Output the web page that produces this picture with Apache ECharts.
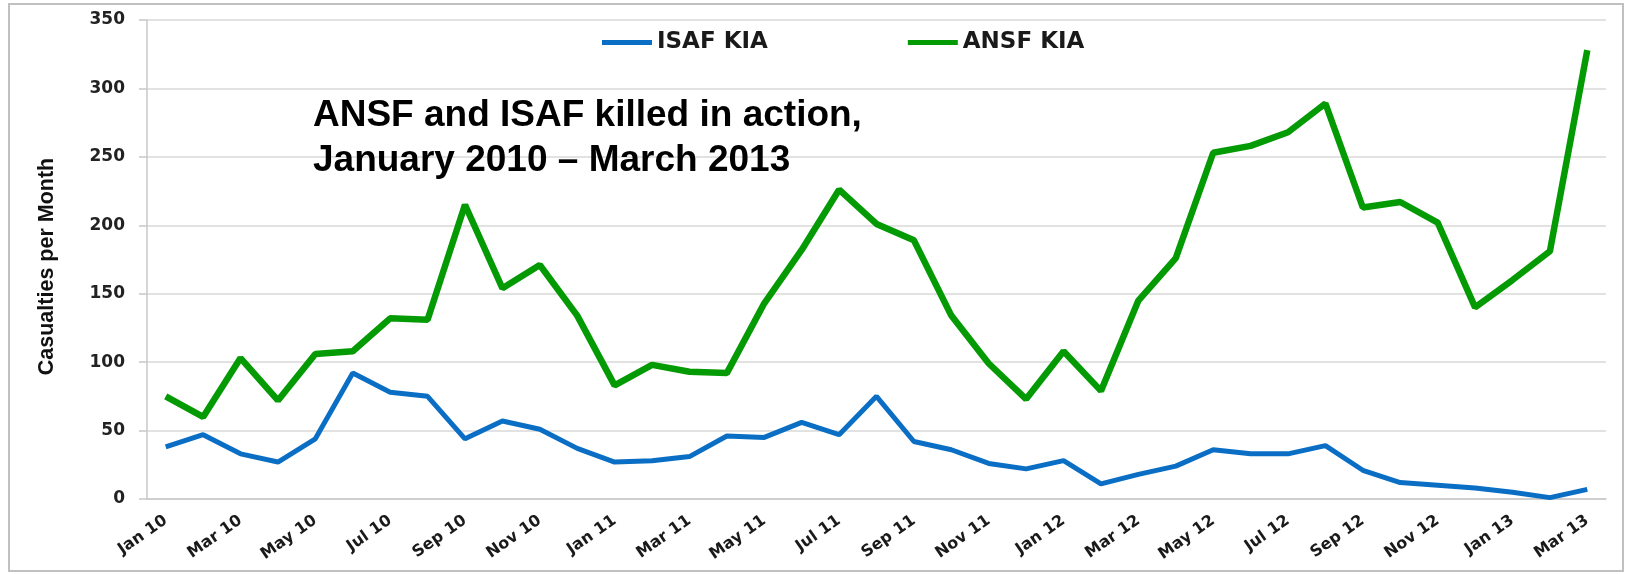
<!DOCTYPE html>
<html>
<head>
<meta charset="utf-8">
<script src="https://cdn.jsdelivr.net/npm/echarts@6/dist/echarts.min.js"></script>
<style>
  html, body { margin: 0; padding: 0; background: #fff; }
  #line-chart { width: 1628px; height: 574px; }
</style>
</head>
<body>
<div id="line-chart"></div>
<script>
// months Jan 2010 .. Mar 2013
const years = ['10', '11', '12', '13']
const monthNames = ['Jan', 'Feb', 'Mar', 'Apr', 'May', 'Jun', 'Jul', 'Aug', 'Sep', 'Oct', 'Nov', 'Dec']
const months = []
years.forEach(y => monthNames.forEach(m => months.push(m + ' ' + y)))
const categories = months.slice(0, 39)

const isafKia = [38, 47, 33, 27, 44, 92, 78, 75, 44, 57, 51, 37,
  27, 28, 31, 46, 45, 56, 47, 75, 42, 36, 26, 22,
  28, 11, 18, 24, 36, 33, 33, 39, 21, 12, 10, 8,
  5, 1, 7]
const ansfKia = [75, 60, 103, 72, 106, 108, 132, 131, 215, 154, 171, 134,
  83, 98, 93, 92, 143, 182, 226, 201, 189, 134, 99, 73,
  108, 79, 145, 176, 253, 258, 268, 289, 213, 217, 202, 140,
  160, 181, 328]

const yTicks = [0, 50, 100, 150, 200, 250, 300, 350]

const chart = echarts.init(document.getElementById('line-chart'))
const option = {
  animation: false,
  title: {
    text: 'ANSF and ISAF killed in action,\nJanuary 2010 – March 2013',
    left: 313,
    top: 93,
    padding: 0,
    textStyle: {
      fontFamily: '"Liberation Sans", Arial, sans-serif',
      fontWeight: 'bold',
      fontSize: 37,
      lineHeight: 45,
      color: '#000'
    }
  },
  legend: {
    left: 597,
    top: 26,
    icon: 'rect',
    itemWidth: 50,
    itemHeight: 5,
    itemGap: 140,
    itemTextGap: 3,
    textStyle: {
      fontFamily: '"DejaVu Sans", sans-serif',
      fontWeight: 'bold',
      fontSize: 23,
      color: '#1a1a1a'
    },
    data: ['ISAF KIA', 'ANSF KIA']
  },
  graphic: [{
    type: 'rect',
    shape: { x: 9, y: 4, width: 1614, height: 567 },
    style: { fill: 'none', stroke: '#c0c0c0', lineWidth: 2 },
    silent: true
  }],
  grid: { left: 147, right: 22, top: 20, bottom: 75 },
  xAxis: {
    type: 'category',
    data: categories,
    boundaryGap: true,
    axisLine: { lineStyle: { color: '#c8c8c8', width: 1.5 } },
    axisTick: { interval: 1, length: 6, lineStyle: { color: '#c8c8c8', width: 1.5 } },
    axisLabel: {
      interval: 1,
      rotate: 35,
      margin: 20,
      fontFamily: '"DejaVu Sans", sans-serif',
      fontWeight: 'bold',
      fontSize: 16,
      color: '#1a1a1a'
    }
  },
  yAxis: {
    type: 'value',
    min: yTicks[0],
    max: yTicks[yTicks.length - 1],
    interval: 50,
    name: 'Casualties per Month',
    nameLocation: 'middle',
    nameGap: 89,
    nameTextStyle: {
      fontFamily: '"Liberation Sans Narrow", "Arial Narrow", "Liberation Sans", sans-serif',
      fontWeight: 'bold',
      fontSize: 21.5,
      color: '#111',
      padding: [0, 14, 0, 0]
    },
    axisLine: { show: true, lineStyle: { color: '#c8c8c8', width: 1.5 } },
    axisTick: { show: true, length: 8, lineStyle: { color: '#c8c8c8', width: 1.5 } },
    axisLabel: {
      margin: 22,
      fontFamily: '"DejaVu Sans", sans-serif',
      fontWeight: 'bold',
      fontSize: 17,
      color: '#222'
    },
    splitLine: { lineStyle: { color: '#d9d9d9', width: 1.5 } }
  },
  series: [
    {
      name: 'ISAF KIA',
      type: 'line',
      data: isafKia,
      symbol: 'none',
      color: '#0a6fc4',
      lineStyle: { width: 5, color: '#0a6fc4' }
    },
    {
      name: 'ANSF KIA',
      type: 'line',
      data: ansfKia,
      symbol: 'none',
      color: '#049a04',
      lineStyle: { width: 6.5, color: '#049a04' }
    }
  ]
}
chart.setOption(option)
</script>
</body>
</html>
